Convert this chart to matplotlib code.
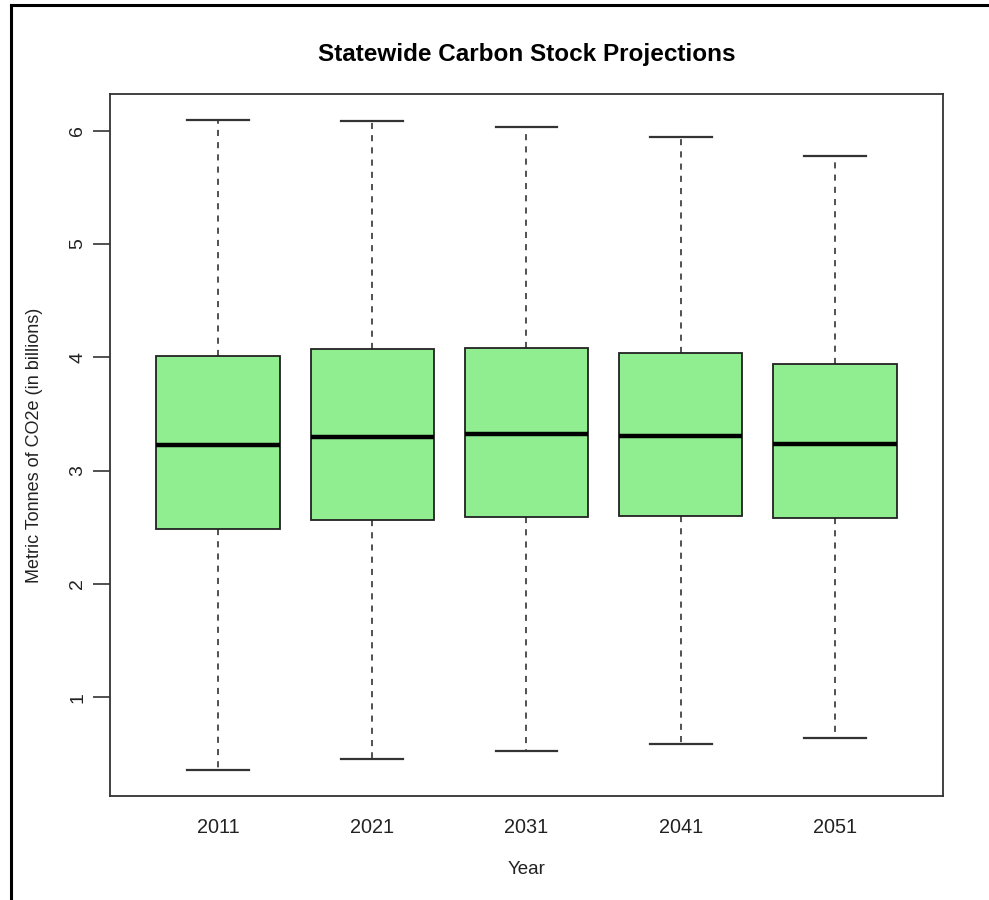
import matplotlib.pyplot as plt
from matplotlib.lines import Line2D

# Carbon stock summary per projection year (billions of tonnes CO2e)
years = ['2011', '2021', '2031', '2041', '2051']
whisker_low = [0.358, 0.458, 0.529, 0.588, 0.637]
q1 = [2.488, 2.56, 2.59, 2.60, 2.58]
median = [3.223, 3.294, 3.324, 3.306, 3.236]
q3 = [4.015, 4.074, 4.086, 4.035, 3.938]
whisker_high = [6.095, 6.083, 6.033, 5.942, 5.773]

stats = []
for i in range(len(years)):
    stats.append({'label': years[i], 'whislo': whisker_low[i], 'q1': q1[i],
                  'med': median[i], 'q3': q3[i], 'whishi': whisker_high[i],
                  'fliers': []})

plt.rcParams['font.family'] = ['Liberation Sans', 'DejaVu Sans']

fig = plt.figure(figsize=(9.89, 9.0), dpi=100)
ax = fig.add_axes([0.1112, 0.1156, 0.8423, 0.78])

ax.bxp(stats, positions=range(1, len(years) + 1), widths=0.8, capwidths=0.4,
       patch_artist=True, showfliers=False,
       boxprops=dict(facecolor='#90EE90', edgecolor='#222222', linewidth=1.3),
       medianprops=dict(color='black', linewidth=3.2, solid_capstyle='butt'),
       whiskerprops=dict(color='#222222', linewidth=1.1, linestyle=(0, (4, 4))),
       capprops=dict(color='#333333', linewidth=1.6))

# R-style axis ranges: 4% padding on the data range
lo, hi = min(whisker_low), max(whisker_high)
pad = (hi - lo) * 0.04
ax.set_ylim(lo - pad, hi + pad)
ax.set_xlim(0.5 - 0.2, len(years) + 0.5 + 0.2)

ax.set_yticks([1, 2, 3, 4, 5, 6])
ax.set_yticklabels(['1', '2', '3', '4', '5', '6'], rotation=90, va='center')
ax.tick_params(axis='y', length=12, width=1.2, color='#333333', pad=5,
               labelsize=14, labelcolor='#222222')
ax.tick_params(axis='x', length=0, pad=16, labelsize=14.3, labelcolor='#222222')

for s in ax.spines.values():
    s.set_linewidth(1.3)
    s.set_color('#333333')

ax.set_title('Statewide Carbon Stock Projections', fontsize=17.5, fontweight='bold',
             pad=24)
ax.set_xlabel('Year', fontsize=13.5, color='#222222', labelpad=17)
ax.set_ylabel('Metric Tonnes of CO2e (in billions)', fontsize=13,
              color='#222222', labelpad=19)

# outer frame around the figure
fig.add_artist(Line2D([11 / 989, 1.0], [1 - 5 / 900, 1 - 5 / 900],
                      transform=fig.transFigure, color='black', linewidth=2.2))
fig.add_artist(Line2D([11 / 989, 11 / 989], [0.0, 1 - 5 / 900],
                      transform=fig.transFigure, color='black', linewidth=2.2))

fig.savefig('out.png', dpi=100)
